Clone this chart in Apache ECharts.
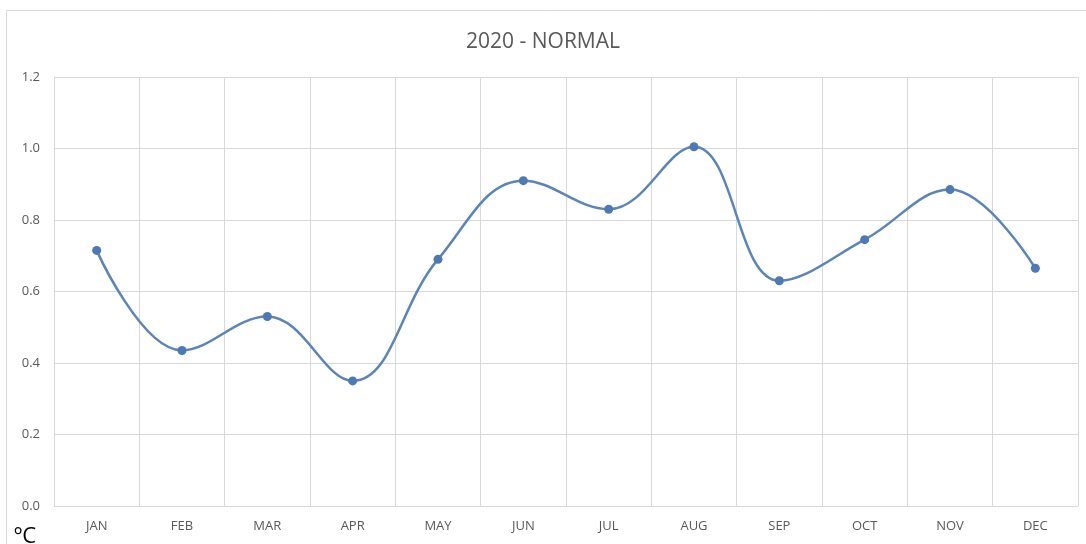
<!DOCTYPE html>
<html>
<head>
<meta charset="utf-8">
<script src="https://cdn.jsdelivr.net/npm/echarts@6/dist/echarts.min.js"></script>
<style>
  html, body { margin: 0; padding: 0; background: #fff; }
  #chart { width: 1086px; height: 544px; }
</style>
</head>
<body>
<div id="chart"></div>
<script>
const months = ["JAN", "FEB", "MAR", "APR", "MAY", "JUN", "JUL", "AUG", "SEP", "OCT", "NOV", "DEC"];
const values = [0.715, 0.435, 0.53, 0.35, 0.69, 0.91, 0.83, 1.005, 0.63, 0.745, 0.885, 0.665];

const chart = echarts.init(document.getElementById("chart"));
const gridColor = "#d9d9d9";
const textColor = "#595959";
const font = "'Open Sans', 'Noto Sans', sans-serif";

chart.setOption({
  animation: false,
  title: {
    text: "2020 - NORMAL",
    left: "center",
    top: 27,
    textStyle: { color: textColor, fontFamily: font, fontWeight: "normal", fontSize: 21 }
  },
  graphic: [
    {
      type: "rect",
      shape: { x: 6.5, y: 10.5, width: 1100, height: 600 },
      style: { fill: null, stroke: "#d9d9d9", lineWidth: 1 },
      silent: true
    },
    {
      type: "text",
      left: 14,
      top: 526,
      style: { text: "ºC", fill: "#000", font: "22px " + font }
    }
  ],
  grid: { left: 54, right: 8, top: 77, bottom: 38 },
  xAxis: {
    type: "category",
    data: months,
    boundaryGap: true,
    axisLine: { show: true, lineStyle: { color: gridColor } },
    axisTick: { show: false },
    axisLabel: { color: textColor, fontFamily: font, fontSize: 13, margin: 14 },
    splitLine: { show: true, lineStyle: { color: gridColor } }
  },
  yAxis: {
    type: "value",
    min: 0,
    max: 1.2,
    interval: 0.2,
    axisLine: { show: true, lineStyle: { color: gridColor } },
    axisTick: { show: false },
    axisLabel: {
      color: textColor, fontFamily: font, fontSize: 13, margin: 14,
      formatter: (v) => v.toFixed(1)
    },
    splitLine: { show: true, lineStyle: { color: gridColor } }
  },
  series: [
    {
      type: "line",
      data: values,
      smooth: 0.4,
      symbol: "circle",
      symbolSize: 9,
      lineStyle: { color: "#5b84b8", width: 2.5 },
      itemStyle: { color: "#4f79b3" }
    }
  ]
});
</script>
</body>
</html>
